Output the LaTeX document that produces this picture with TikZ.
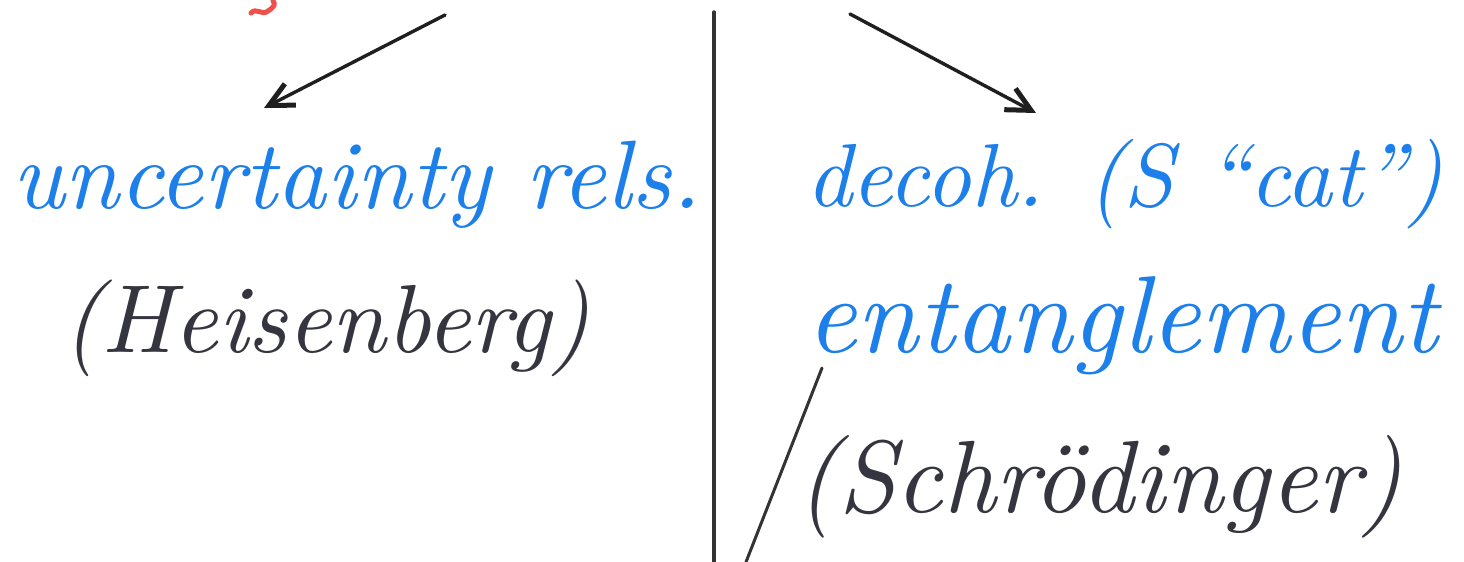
\documentclass[tikz,border=0pt]{standalone}
\usetikzlibrary{arrows.meta}
\definecolor{inkblue}{HTML}{1C7FEA}
\definecolor{inkgray}{HTML}{35353F}
\definecolor{inkred}{HTML}{F0504A}
\tikzset{
  bluetext/.style={text=inkblue, inner sep=0pt, anchor=base west, font=\itshape},
  graytext/.style={text=inkgray, inner sep=0pt, anchor=base west, font=\itshape},
  pointer/.style={draw=black!88, line width=3.4pt, line cap=round,
    -{Straight Barb[length=24pt, width=24pt, line width=5pt]}},
  divider/.style={draw=black!80, line width=3.4pt, line cap=round}
}
\begin{document}
\begin{tikzpicture}[x=1pt, y=-1pt]
  \useasboundingbox (0,0) rectangle (1464,562);
  \fill[white] (0,0) rectangle (1464,562);

  % small red mark at the top
  \draw[inkred, line width=5pt, line cap=round, line join=round]
    (251,13) .. controls (256,7) and (262,16) .. (268,11)
    .. controls (274,7) and (276,4) .. (273,1);

  % vertical divider and the slanted stroke
  \coordinate (vtop) at (714,12);
  \coordinate (vbot) at (714,562);
  \draw[divider] (vtop) -- (vbot);
  \coordinate (stop) at (822,368);
  \coordinate (sbot) at (746,562);
  \draw[divider, line width=3pt] (stop) -- (sbot);

  % left column
  \node[bluetext] (unc) at (12,208) {\resizebox{688pt}{!}{uncertainty rels.}};
  \node[graytext] (heis) at (62,352) {\resizebox{528pt}{!}{(Heisenberg)}};

  % right column
  \node[bluetext] (dec) at (806,206) {\resizebox{636pt}{!}{decoh. (S ``cat'')}};
  \node[bluetext] (ent) at (806,352) {\resizebox{632pt}{!}{entanglement}};
  \node[graytext] (sch) at (796,512) {\resizebox{606pt}{!}{(Schr\"odinger)}};

  % arrows coming down from above
  \coordinate (la) at (445,15);
  \coordinate (lb) at (264,108);
  \draw[pointer] (la) -- (lb);
  \coordinate (ra) at (850,14);
  \coordinate (rb) at (1036,113);
  \draw[pointer] (ra) -- (rb);
\end{tikzpicture}
\end{document}
